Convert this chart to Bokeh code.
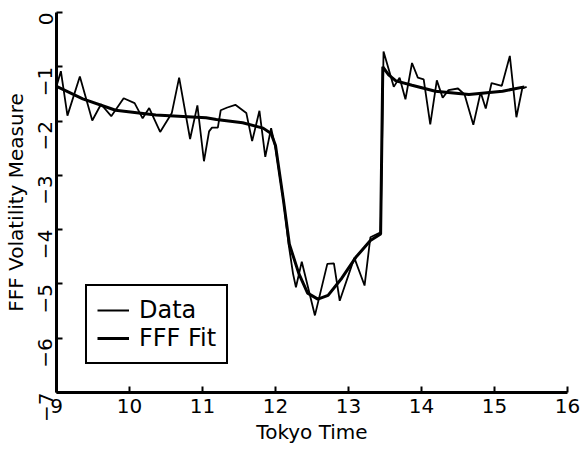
import math
from bokeh.plotting import figure
from bokeh.models import Range1d, FixedTicker
from bokeh.embed import file_html
from bokeh.resources import INLINE

# Tokyo time (hours) and FFF volatility measure
data_time = [9.00, 9.06, 9.15, 9.32, 9.49, 9.61, 9.75, 9.92, 10.07, 10.18,
             10.27, 10.42, 10.58, 10.68, 10.83, 10.93, 11.02, 11.09, 11.13, 11.21,
             11.25, 11.34, 11.45, 11.60, 11.68, 11.78, 11.86, 11.94, 12.00, 12.11,
             12.18, 12.24, 12.28, 12.36, 12.54, 12.71, 12.80, 12.88, 13.08, 13.22,
             13.30, 13.44, 13.48, 13.62, 13.70, 13.78, 13.87, 13.95, 14.03, 14.12,
             14.21, 14.29, 14.37, 14.50, 14.59, 14.71, 14.81, 14.88, 14.96, 15.10,
             15.21, 15.30, 15.38, 15.44]
data_value = [-1.36, -1.08, -1.90, -1.18, -1.99, -1.69, -1.91, -1.58, -1.67, -1.95,
              -1.76, -2.20, -1.85, -1.20, -2.33, -1.71, -2.74, -2.19, -2.12, -2.12,
              -1.80, -1.75, -1.70, -1.85, -2.37, -1.81, -2.66, -2.13, -2.50, -3.47,
              -4.27, -4.81, -5.06, -4.59, -5.58, -4.63, -4.62, -5.31, -4.52, -5.03,
              -4.14, -4.05, -0.72, -1.37, -1.20, -1.60, -0.93, -1.20, -1.23, -2.06,
              -1.25, -1.57, -1.43, -1.40, -1.51, -2.07, -1.47, -1.77, -1.30, -1.35,
              -0.80, -1.93, -1.40, -1.37]

fit_time = [9.00, 9.36, 9.81, 10.36, 11.05, 11.19, 11.55, 11.83, 11.94, 12.00,
            12.11, 12.19, 12.32, 12.44, 12.58, 12.72, 12.91, 13.10, 13.30, 13.44,
            13.47, 13.55, 13.65, 13.87, 14.19, 14.65, 15.11, 15.41]
fit_value = [-1.36, -1.59, -1.80, -1.89, -1.94, -1.97, -2.03, -2.13, -2.23, -2.45,
             -3.47, -4.27, -4.81, -5.17, -5.28, -5.21, -4.89, -4.51, -4.20, -4.08,
             -1.00, -1.15, -1.26, -1.34, -1.45, -1.51, -1.45, -1.37]

x_ticks = [9, 10, 11, 12, 13, 14, 15, 16]
y_ticks = [0, -1, -2, -3, -4, -5, -6, -7]

FONT = "DejaVu Sans"

p = figure(width=585, height=451, x_range=Range1d(9, 16), y_range=Range1d(-7, 0),
           output_backend="svg", toolbar_location=None,
           min_border_left=50, min_border_right=18, min_border_top=12, min_border_bottom=59)

p.line(data_time, data_value, line_color="black", line_width=1.8, legend_label="Data")
p.line(fit_time, fit_value, line_color="black", line_width=3, legend_label="FFF Fit")

p.xgrid.visible = False
p.ygrid.visible = False
p.outline_line_color = None
p.background_fill_color = "white"
p.border_fill_color = "white"

p.xaxis.ticker = FixedTicker(ticks=x_ticks)
p.yaxis.ticker = FixedTicker(ticks=y_ticks)
for ax in (p.xaxis[0], p.yaxis[0]):
    ax.axis_line_width = 3
    ax.axis_line_color = "black"
    ax.major_tick_in = 6
    ax.major_tick_out = 0
    ax.major_tick_line_width = 2
    ax.major_tick_line_color = "black"
    ax.minor_tick_line_color = None
    ax.major_label_text_font = FONT
    ax.major_label_text_font_size = "20px"
    ax.major_label_text_color = "black"
    ax.axis_label_text_font = FONT
    ax.axis_label_text_font_size = "20px"
    ax.axis_label_text_font_style = "normal"
    ax.axis_label_text_color = "black"

p.xaxis.axis_label = "Tokyo Time"
p.xaxis.major_label_standoff = 6
p.xaxis.axis_label_standoff = 4
p.yaxis.axis_label = "FFF Volatility Measure"
p.yaxis.major_label_orientation = math.pi / 2
p.yaxis.major_label_standoff = 11
p.yaxis.axis_label_standoff = 1

lg = p.legend[0]
lg.location = (29, 28)
lg.border_line_color = "black"
lg.border_line_alpha = 1
lg.border_line_width = 2
lg.background_fill_color = "white"
lg.background_fill_alpha = 1
lg.label_text_font = FONT
lg.label_text_font_size = "24px"
lg.label_text_color = "black"
lg.glyph_width = 32
lg.glyph_height = 26
lg.label_height = 26
lg.label_standoff = 10
lg.padding = 10
lg.spacing = 0
lg.margin = 0

open("out.html", "w").write(file_html(p, INLINE))
